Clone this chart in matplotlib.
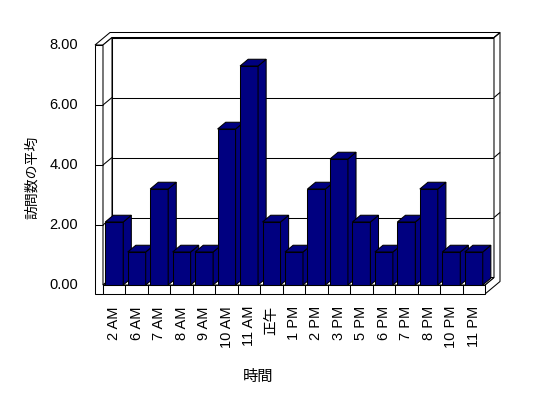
import matplotlib
matplotlib.use('Agg')
import matplotlib.pyplot as plt
from matplotlib.patches import Polygon

# ---- data ----
categories = ['2 AM', '6 AM', '7 AM', '8 AM', '9 AM', '10 AM', '11 AM', '正午',
              '1 PM', '2 PM', '3 PM', '5 PM', '6 PM', '7 PM', '8 PM', '10 PM', '11 PM']
values = [2.1, 1.1, 3.2, 1.1, 1.1, 5.2, 7.3, 2.1, 1.1, 3.2, 4.2, 2.1, 1.1, 2.1, 3.2, 1.1, 1.1]
yticks = [0, 2, 4, 6, 8]
ytick_labels = ['0.00', '2.00', '4.00', '6.00', '8.00']
xlabel = '時間'
ylabel = '訪問数の平均'

# ---- figure / front-plane axes ----
W, H = 548, 398
fig = plt.figure(figsize=(W / 100, H / 100), dpi=100)
fig.patch.set_facecolor('white')
L, R, T, B = 103, 485, 45, 285
ax = fig.add_axes([L / W, 1 - B / H, (R - L) / W, (B - T) / H])
n = len(categories)
ymax = yticks[-1]
ax.set_xlim(-0.5, n - 0.5)
ax.set_ylim(0, ymax)
ax.set_axis_off()

ux = n / (R - L)      # data units per pixel (x)
uy = ymax / (B - T)   # data units per pixel (y)
DX, DY = 9 * ux, 7.5 * uy   # depth of plot box
WX, WY = 6 * ux, 5 * uy     # back wall thickness
LT = 8 * ux                 # left wall thickness
FT = 9 * uy                 # floor thickness
BAR_W = 0.8
BAR_D = 0.9
xl, xr = -0.5, n - 0.5
xo = xl - LT
top = ymax
LW = 0.75
NAVY = '#000080'


def poly(pts, fc='white', z=1.0):
    ax.add_patch(Polygon(pts, closed=True, facecolor=fc, edgecolor='black',
                         linewidth=LW, clip_on=False, zorder=z, joinstyle='miter'))


def line(xs, ys, z):
    ax.plot(xs, ys, color='black', linewidth=LW, clip_on=False, zorder=z,
            solid_capstyle='butt')


# back wall inner face
poly([(xl + DX, DY), (xr + DX, DY), (xr + DX, top + DY), (xl + DX, top + DY)], z=1)
for v in yticks:
    line([xl + DX, xr + DX], [v + DY, v + DY], 1.5)

# right side faces (back wall + floor)
poly([(xr, 0), (xr + DX, DY), (xr + DX, top + DY), (xr + DX + WX, top + DY + WY),
      (xr + DX + WX, -FT + DY + WY), (xr, -FT)], z=2)
for v in yticks[1:]:
    line([xr + DX, xr + DX + WX], [v + DY, v + DY + WY], 2.5)

# top faces (left wall + back wall)
poly([(xo, top), (xl, top), (xl + DX, top + DY), (xr + DX, top + DY),
      (xr + DX + WX, top + DY + WY), (xo + DX + WX, top + DY + WY)], z=2)

# left wall front face and inner face
poly([(xo, -FT), (xl, -FT), (xl, top), (xo, top)], z=3)
poly([(xl, 0), (xl + DX, DY), (xl + DX, top + DY), (xl, top)], z=3)
for v in yticks[1:-1]:
    line([xo, xl], [v, v], 3.5)
    line([xl, xl + DX], [v, v + DY], 3.5)

# floor
poly([(xl, 0), (xr, 0), (xr + DX, DY), (xl + DX, DY)], z=3)
poly([(xl, -FT), (xr, -FT), (xr, 0), (xl, 0)], z=3)
for k in range(1, n):
    line([k - 0.5, k - 0.5], [-FT, 0], 3.5)

# bars
bdx, bdy = DX * BAR_D, DY * BAR_D
hw = BAR_W / 2
for i, v in enumerate(values):
    z = 4 + i * 0.01
    poly([(i - hw, 0), (i + hw, 0), (i + hw, v), (i - hw, v)], fc=NAVY, z=z)
    poly([(i + hw, 0), (i + hw + bdx, bdy), (i + hw + bdx, v + bdy), (i + hw, v)], fc=NAVY, z=z + 0.001)
    poly([(i - hw, v), (i + hw, v), (i + hw + bdx, v + bdy), (i - hw + bdx, v + bdy)], fc=NAVY, z=z + 0.002)

# tick labels
TICK_FONT = ['Liberation Sans', 'Noto Sans CJK JP', 'DejaVu Sans']
for v, lab in zip(yticks, ytick_labels):
    ax.text(xo - 17 * ux, v, lab, ha='right', va='center', fontsize=10.5,
            family=TICK_FONT, clip_on=False)
for i, cat in enumerate(categories):
    ax.text(i, -21 * uy, cat, rotation=90, ha='center', va='top', fontsize=10.5,
            family=TICK_FONT, clip_on=False)

# axis titles
fig.text(32 / W, 1 - 177 / H, ylabel, rotation=90, ha='center', va='center',
         fontsize=10, family=['Noto Sans CJK JP', 'DejaVu Sans'])
fig.text(258 / W, 1 - 376 / H, xlabel, ha='center', va='center',
         fontsize=11, family=['Noto Sans CJK JP', 'DejaVu Sans'])

fig.savefig('out.png', dpi=100, facecolor='white')
